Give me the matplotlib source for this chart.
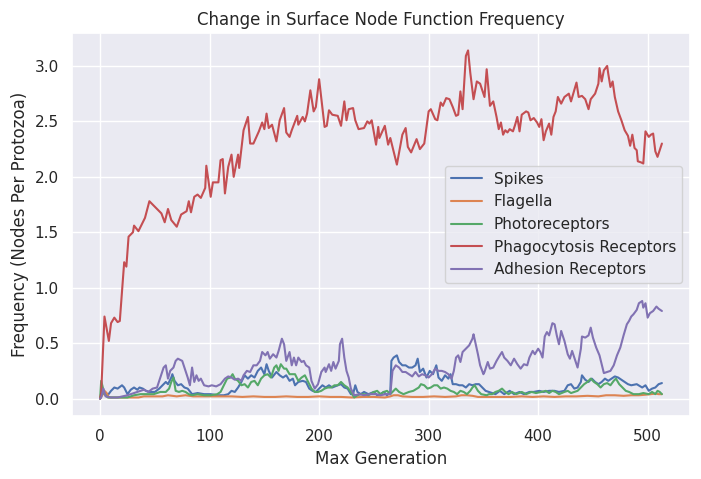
import matplotlib
matplotlib.use("Agg")
import matplotlib.pyplot as plt
import seaborn as sns

sns.set_theme()

title = "Change in Surface Node Function Frequency"
xlabel = "Max Generation"
ylabel = "Frequency (Nodes Per Protozoa)"
labels = ["Spikes", "Flagella", "Photoreceptors", "Phagocytosis Receptors", "Adhesion Receptors"]

spikes = [(0,0.0),(1,0.03),(3,0.05),(7,0.03),(10,0.07),(13,0.10),(16,0.09),(20,0.12),(22,0.10),(25,0.04),(28,0.08),(31,0.10),(34,0.08),(36,0.10),(39,0.09),(42,0.07),(45,0.06),(50,0.06),(54,0.09),(57,0.12),(60,0.15),(62,0.13),(65,0.19),(66,0.22),(68,0.16),(71,0.12),(74,0.13),(77,0.10),(80,0.09),(84,0.04),(89,0.05),(95,0.04),(101,0.04),(107,0.03),(113,0.03),(117,0.04),(120,0.07),(123,0.06),(126,0.10),(129,0.15),(132,0.21),(135,0.18),(138,0.21),(141,0.19),(144,0.25),(147,0.28),(150,0.22),(152,0.31),(154,0.25),(157,0.19),(161,0.24),(164,0.21),(167,0.19),(170,0.21),(173,0.16),(176,0.18),(178,0.12),(181,0.15),(185,0.16),(188,0.15),(191,0.09),(194,0.07),(197,0.06),(200,0.09),(203,0.12),(206,0.10),(209,0.12),(212,0.10),(217,0.12),(220,0.13),(223,0.10),(226,0.09),(229,0.04),(231,0.04),(233,0.12),(235,0.06),(238,0.04),(241,0.06),(245,0.04),(250,0.06),(253,0.03),(256,0.04),(259,0.06),(262,0.03),(265,0.06),(266,0.34),(268,0.37),(271,0.39),(273,0.33),(276,0.30),(279,0.30),(282,0.28),(285,0.28),(288,0.30),(290,0.36),(292,0.24),(295,0.27),(298,0.19),(301,0.25),(304,0.22),(307,0.30),(309,0.19),(312,0.16),(315,0.21),(318,0.18),(320,0.22),(322,0.13),(325,0.13),(328,0.12),(331,0.12),(334,0.10),(337,0.13),(340,0.12),(343,0.13),(346,0.13),(349,0.10),(352,0.07),(355,0.06),(358,0.05),(361,0.04),(365,0.07),(369,0.04),(374,0.07),(378,0.04),(383,0.06),(387,0.04),(392,0.06),(396,0.06),(401,0.07),(405,0.06),(410,0.07),(415,0.07),(419,0.06),(424,0.07),(427,0.12),(430,0.13),(433,0.09),(436,0.10),(439,0.15),(440,0.21),(443,0.17),(446,0.15),(449,0.18),(452,0.15),(455,0.13),(458,0.15),(461,0.18),(464,0.16),(467,0.18),(470,0.20),(473,0.19),(476,0.17),(479,0.15),(482,0.13),(485,0.12),(490,0.13),(495,0.10),(498,0.12),(501,0.07),(504,0.09),(507,0.10),(510,0.13),(513,0.14)]

flagella = [(0,0.0),(2,0.03),(4,0.07),(6,0.05),(8,0.01),(15,0.01),(25,0.01),(35,0.01),(40,0.02),(50,0.02),(57,0.02),(62,0.03),(70,0.02),(78,0.03),(85,0.02),(95,0.02),(105,0.02),(115,0.02),(120,0.02),(130,0.015),(140,0.02),(150,0.015),(160,0.015),(170,0.02),(180,0.015),(190,0.015),(200,0.02),(210,0.015),(220,0.015),(230,0.01),(240,0.015),(250,0.015),(260,0.01),(265,0.02),(268,0.03),(272,0.03),(276,0.02),(285,0.015),(295,0.015),(305,0.02),(315,0.015),(325,0.02),(330,0.03),(335,0.03),(340,0.025),(345,0.015),(355,0.015),(365,0.015),(375,0.015),(385,0.02),(395,0.015),(405,0.02),(415,0.015),(425,0.02),(435,0.02),(445,0.025),(455,0.02),(462,0.03),(470,0.03),(478,0.025),(485,0.03),(492,0.03),(498,0.035),(503,0.04),(507,0.045),(510,0.04),(513,0.04)]

photoreceptors = [(0,0.0),(1,0.16),(2,0.12),(4,0.04),(7,0.01),(16,0.01),(25,0.01),(31,0.03),(37,0.04),(43,0.04),(49,0.04),(55,0.06),(60,0.06),(63,0.09),(65,0.15),(67,0.19),(69,0.07),(72,0.06),(75,0.07),(78,0.06),(81,0.04),(84,0.03),(89,0.04),(95,0.03),(101,0.03),(107,0.04),(110,0.06),(113,0.12),(116,0.18),(119,0.19),(121,0.22),(123,0.18),(126,0.16),(129,0.12),(132,0.13),(135,0.10),(138,0.15),(141,0.16),(144,0.12),(147,0.18),(150,0.21),(153,0.22),(156,0.19),(159,0.28),(161,0.30),(163,0.25),(165,0.31),(168,0.27),(170,0.27),(173,0.22),(176,0.22),(178,0.22),(181,0.16),(184,0.19),(187,0.21),(190,0.15),(193,0.09),(196,0.06),(199,0.06),(202,0.07),(205,0.09),(208,0.10),(211,0.10),(214,0.12),(217,0.12),(220,0.15),(223,0.12),(226,0.10),(229,0.06),(232,0.01),(235,0.03),(238,0.04),(241,0.04),(245,0.03),(250,0.06),(253,0.07),(256,0.04),(259,0.06),(262,0.07),(265,0.04),(268,0.07),(270,0.09),(273,0.06),(277,0.04),(282,0.06),(286,0.07),(291,0.10),(293,0.13),(296,0.12),(299,0.09),(302,0.10),(305,0.12),(308,0.12),(311,0.09),(314,0.10),(317,0.09),(320,0.07),(323,0.06),(326,0.04),(329,0.07),(332,0.06),(335,0.04),(338,0.07),(340,0.10),(342,0.12),(345,0.07),(348,0.04),(353,0.03),(355,0.04),(358,0.04),(361,0.06),(364,0.07),(367,0.09),(370,0.06),(373,0.04),(376,0.06),(380,0.04),(385,0.06),(389,0.04),(394,0.06),(398,0.05),(403,0.06),(407,0.07),(410,0.05),(413,0.07),(416,0.06),(419,0.04),(424,0.06),(427,0.07),(430,0.05),(433,0.06),(436,0.07),(439,0.10),(442,0.13),(445,0.15),(448,0.18),(451,0.15),(454,0.13),(457,0.10),(460,0.13),(463,0.14),(466,0.12),(469,0.16),(471,0.18),(474,0.13),(477,0.10),(480,0.07),(483,0.06),(487,0.04),(492,0.04),(496,0.05),(501,0.04),(504,0.06),(507,0.04),(509,0.07),(511,0.06),(513,0.04)]

phagocytosis = [(0,0.0),(1,0.05),(4,0.74),(8,0.52),(10,0.68),(13,0.73),(16,0.69),(18,0.70),(22,1.23),(24,1.19),(26,1.46),(30,1.50),(31,1.56),(35,1.51),(41,1.63),(45,1.78),(51,1.72),(56,1.67),(59,1.59),(62,1.71),(65,1.61),(70,1.55),(74,1.66),(79,1.69),(81,1.78),(83,1.68),(86,1.82),(89,1.84),(92,1.81),(96,1.90),(97,2.10),(101,1.82),(103,1.95),(108,1.95),(110,2.15),(112,2.16),(114,1.85),(117,2.09),(120,2.20),(122,2.00),(126,2.20),(127,2.08),(131,2.42),(135,2.54),(137,2.30),(140,2.30),(145,2.41),(148,2.49),(150,2.43),(152,2.57),(154,2.44),(157,2.47),(161,2.32),(164,2.51),(168,2.62),(170,2.40),(173,2.36),(175,2.42),(180,2.55),(181,2.47),(185,2.54),(187,2.50),(189,2.57),(192,2.78),(195,2.59),(197,2.63),(200,2.88),(205,2.45),(207,2.46),(209,2.60),(212,2.56),(217,2.55),(220,2.46),(223,2.68),(225,2.51),(227,2.61),(231,2.62),(233,2.51),(236,2.43),(241,2.44),(244,2.50),(246,2.48),(248,2.51),(252,2.29),(254,2.45),(255,2.35),(260,2.46),(263,2.29),(265,2.35),(271,2.11),(276,2.38),(279,2.44),(281,2.27),(284,2.22),(289,2.34),(292,2.25),(296,2.30),(300,2.59),(302,2.61),(306,2.52),(308,2.51),(311,2.67),(313,2.64),(316,2.71),(319,2.70),(322,2.63),(325,2.55),(327,2.56),(329,2.77),(331,2.61),(334,3.09),(336,3.14),(338,2.94),(341,2.70),(344,2.86),(347,2.84),(351,2.72),(353,2.97),(356,2.64),(359,2.68),(362,2.54),(364,2.43),(366,2.49),(368,2.38),(370,2.42),(372,2.40),(374,2.43),(377,2.41),(379,2.47),(381,2.54),(383,2.41),(385,2.56),(389,2.59),(391,2.58),(393,2.51),(396,2.53),(399,2.49),(401,2.45),(403,2.52),(405,2.33),(407,2.41),(410,2.48),(412,2.38),(414,2.54),(416,2.59),(418,2.72),(421,2.66),(424,2.72),(428,2.75),(430,2.68),(433,2.78),(435,2.85),(437,2.72),(440,2.73),(443,2.70),(446,2.61),(448,2.70),(452,2.75),(455,2.84),(456,2.98),(458,2.86),(460,2.96),(463,3.00),(464,2.93),(466,2.81),(468,2.86),(470,2.72),(473,2.59),(476,2.51),(479,2.42),(482,2.37),(484,2.28),(486,2.38),(488,2.26),(490,2.24),(491,2.14),(494,2.13),(496,2.12),(498,2.41),(501,2.36),(503,2.38),(505,2.39),(507,2.23),(509,2.18),(511,2.24),(513,2.30)]

adhesion = [(0,0.0),(1,0.01),(3,0.09),(5,0.02),(10,0.01),(16,0.01),(25,0.03),(34,0.06),(40,0.08),(44,0.06),(48,0.09),(52,0.10),(55,0.19),(58,0.28),(60,0.30),(62,0.18),(64,0.25),(67,0.28),(69,0.34),(71,0.36),(75,0.34),(77,0.28),(80,0.19),(82,0.12),(84,0.28),(86,0.15),(88,0.21),(90,0.16),(92,0.18),(95,0.12),(99,0.11),(102,0.12),(106,0.11),(110,0.13),(114,0.18),(117,0.20),(120,0.19),(123,0.17),(126,0.18),(129,0.16),(131,0.21),(134,0.25),(137,0.24),(140,0.30),(143,0.30),(146,0.34),(148,0.42),(151,0.39),(153,0.42),(155,0.36),(158,0.40),(161,0.37),(163,0.43),(166,0.54),(168,0.49),(170,0.34),(173,0.42),(175,0.30),(177,0.37),(179,0.30),(181,0.37),(184,0.33),(186,0.34),(188,0.30),(191,0.28),(193,0.16),(196,0.09),(199,0.13),(202,0.24),(205,0.28),(206,0.24),(209,0.31),(211,0.25),(213,0.33),(215,0.27),(218,0.34),(219,0.49),(221,0.54),(223,0.37),(225,0.25),(227,0.19),(229,0.09),(232,0.03),(237,0.04),(241,0.03),(247,0.04),(252,0.04),(256,0.03),(261,0.04),(265,0.04),(267,0.25),(270,0.30),(273,0.28),(276,0.24),(279,0.24),(282,0.22),(285,0.20),(288,0.24),(291,0.20),(294,0.22),(297,0.21),(300,0.19),(303,0.22),(306,0.27),(309,0.25),(312,0.25),(315,0.24),(318,0.22),(321,0.18),(323,0.25),(325,0.37),(327,0.39),(329,0.33),(331,0.42),(334,0.45),(337,0.48),(340,0.54),(341,0.58),(343,0.49),(345,0.40),(347,0.30),(350,0.22),(351,0.24),(354,0.33),(356,0.27),(359,0.28),(362,0.34),(365,0.39),(367,0.42),(369,0.37),(372,0.34),(375,0.30),(378,0.36),(381,0.31),(384,0.27),(387,0.31),(390,0.30),(392,0.37),(395,0.43),(397,0.40),(400,0.45),(402,0.42),(404,0.37),(406,0.56),(408,0.60),(410,0.57),(413,0.68),(415,0.67),(417,0.57),(419,0.49),(421,0.61),(424,0.52),(427,0.40),(429,0.36),(431,0.43),(434,0.34),(436,0.28),(439,0.45),(440,0.56),(443,0.55),(446,0.57),(448,0.64),(450,0.55),(453,0.46),(456,0.39),(458,0.31),(460,0.23),(463,0.24),(466,0.25),(469,0.30),(472,0.39),(475,0.46),(478,0.57),(481,0.67),(483,0.70),(485,0.74),(487,0.76),(490,0.80),(492,0.86),(495,0.88),(496,0.82),(498,0.86),(500,0.73),(502,0.77),(505,0.79),(508,0.83),(510,0.81),(513,0.79)]

series = [spikes, flagella, photoreceptors, phagocytosis, adhesion]

fig = plt.figure(figsize=(7.01, 4.79), dpi=100)
ax = fig.add_axes([72/701, 1 - 416/479, (690 - 72)/701, (416 - 33)/479])
for lab, s in zip(labels, series):
    xs = [p[0] for p in s]
    ys = [p[1] for p in s]
    ax.plot(xs, ys, label=lab, linewidth=1.5)

ax.set_title(title)
ax.set_xlabel(xlabel)
ax.set_ylabel(ylabel)
ax.legend(loc="center right")
fig.savefig("out.png", dpi=100)
